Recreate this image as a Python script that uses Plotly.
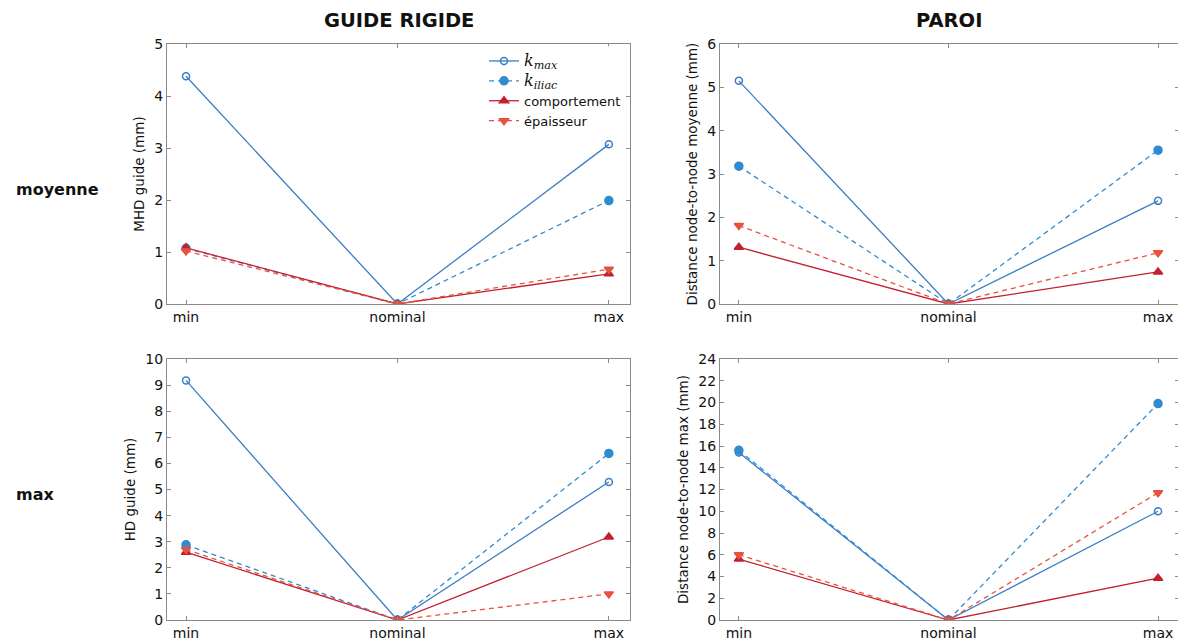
import plotly.graph_objects as go
from plotly.subplots import make_subplots

categories = ["min", "nominal", "max"]

series_names = [
    "<span style='font-family:DejaVu Serif;font-size:16px'><i>k</i><sub><i>max</i></sub></span>",
    "<span style='font-family:DejaVu Serif;font-size:16px'><i>k</i><sub><i>iliac</i></sub></span>",
    "comportement",
    "épaisseur",
]

# Top-left: MHD guide (mm)
mhd_kmax = [4.38, 0, 3.07]
mhd_kiliac = [1.07, 0, 1.99]
mhd_comp = [1.08, 0, 0.58]
mhd_ep = [1.02, 0, 0.67]

# Top-right: Distance node-to-node moyenne (mm)
moy_kmax = [5.15, 0, 2.38]
moy_kiliac = [3.18, 0, 3.55]
moy_comp = [1.31, 0, 0.74]
moy_ep = [1.81, 0, 1.18]

# Bottom-left: HD guide (mm)
hd_kmax = [9.18, 0, 5.29]
hd_kiliac = [2.88, 0, 6.38]
hd_comp = [2.6, 0, 3.18]
hd_ep = [2.7, 0, 1.0]

# Bottom-right: Distance node-to-node max (mm)
dmax_kmax = [15.4, 0, 10.0]
dmax_kiliac = [15.6, 0, 19.9]
dmax_comp = [5.6, 0, 3.85]
dmax_ep = [6.0, 0, 11.7]

panels = [
    (1, 1, [mhd_kmax, mhd_kiliac, mhd_comp, mhd_ep], "MHD guide (mm)", [0, 5], 1),
    (1, 2, [moy_kmax, moy_kiliac, moy_comp, moy_ep], "Distance node-to-node moyenne (mm)", [0, 6], 1),
    (2, 1, [hd_kmax, hd_kiliac, hd_comp, hd_ep], "HD guide (mm)", [0, 10], 1),
    (2, 2, [dmax_kmax, dmax_kiliac, dmax_comp, dmax_ep], "Distance node-to-node max (mm)", [0, 24], 2),
]

styles = [
    dict(color="#3b7cc6", dash="solid", symbol="circle-open", size=7),
    dict(color="#2f8bd0", dash="dash", symbol="circle", size=8),
    dict(color="#c3202f", dash="solid", symbol="triangle-up", size=8),
    dict(color="#e5533f", dash="dash", symbol="triangle-down", size=8),
]

W, H = 1186, 642
OFF = 8  # page body margin


def px_x(p):
    return (p - OFF) / W


def px_y(p):
    return 1 - (p - OFF) / H


fig = make_subplots(rows=2, cols=2)

for (r, c, data, ytitle, yr, dt) in panels:
    for i, vals in enumerate(data):
        st = styles[i]
        fig.add_trace(go.Scatter(
            x=categories, y=vals, mode="lines+markers",
            name=series_names[i],
            showlegend=(r == 1 and c == 1),
            line=dict(color=st["color"], width=1.3, dash="5px,4px" if st["dash"] == "dash" else "solid"),
            marker=dict(symbol=st["symbol"], size=st["size"], color=st["color"],
                        line=dict(color=st["color"], width=1.5)),
        ), row=r, col=c)
    fig.update_yaxes(range=yr, dtick=dt, row=r, col=c,
                     title=dict(text=ytitle, font=dict(size=13.5, family="DejaVu Sans", color="#111"), standoff=6))
    fig.update_xaxes(range=[-0.09, 2.1], row=r, col=c)

axis_common = dict(showline=True, linecolor="#8a8a8a", linewidth=1.2, mirror="ticks",
                   ticks="inside", ticklen=4, tickcolor="#8a8a8a", showgrid=False, zeroline=False,
                   automargin=False,
                   tickfont=dict(size=14, family="DejaVu Sans", color="#111"))
fig.update_xaxes(**axis_common, type="category")
fig.update_yaxes(**axis_common)

fig.update_layout(
    width=W, height=H,
    margin=dict(l=0, r=0, t=0, b=0, autoexpand=False),
    plot_bgcolor="white", paper_bgcolor="white",
    xaxis=dict(domain=[px_x(167), px_x(630)]),
    xaxis2=dict(domain=[px_x(720), px_x(1179)]),
    xaxis3=dict(domain=[px_x(167), px_x(630)]),
    xaxis4=dict(domain=[px_x(720), px_x(1179)]),
    yaxis=dict(domain=[px_y(304), px_y(44)]),
    yaxis2=dict(domain=[px_y(304), px_y(44)]),
    yaxis3=dict(domain=[px_y(620), px_y(359)]),
    yaxis4=dict(domain=[px_y(620), px_y(359)]),
    legend=dict(x=px_x(626), y=px_y(46), xanchor="right", yanchor="top",
                bgcolor="rgba(255,255,255,0.9)", borderwidth=0,
                font=dict(size=13, family="DejaVu Sans", color="#111"),
                tracegroupgap=0, itemwidth=30),
    annotations=[
        dict(text="<b>GUIDE RIGIDE</b>", x=px_x(399), y=px_y(21), xref="paper", yref="paper",
             xanchor="center", yanchor="middle",
             showarrow=False, font=dict(size=19.5, family="DejaVu Sans", color="#111")),
        dict(text="<b>PAROI</b>", x=px_x(949), y=px_y(21), xref="paper", yref="paper",
             xanchor="center", yanchor="middle",
             showarrow=False, font=dict(size=19.5, family="DejaVu Sans", color="#111")),
        dict(text="<b>moyenne</b>", x=px_x(14), y=px_y(190), xref="paper", yref="paper",
             xanchor="left", yanchor="middle",
             showarrow=False, font=dict(size=16, family="DejaVu Sans", color="#111")),
        dict(text="<b>max</b>", x=px_x(14), y=px_y(494), xref="paper", yref="paper",
             xanchor="left", yanchor="middle",
             showarrow=False, font=dict(size=16, family="DejaVu Sans", color="#111")),
    ],
)

fig.write_html("out.html")
